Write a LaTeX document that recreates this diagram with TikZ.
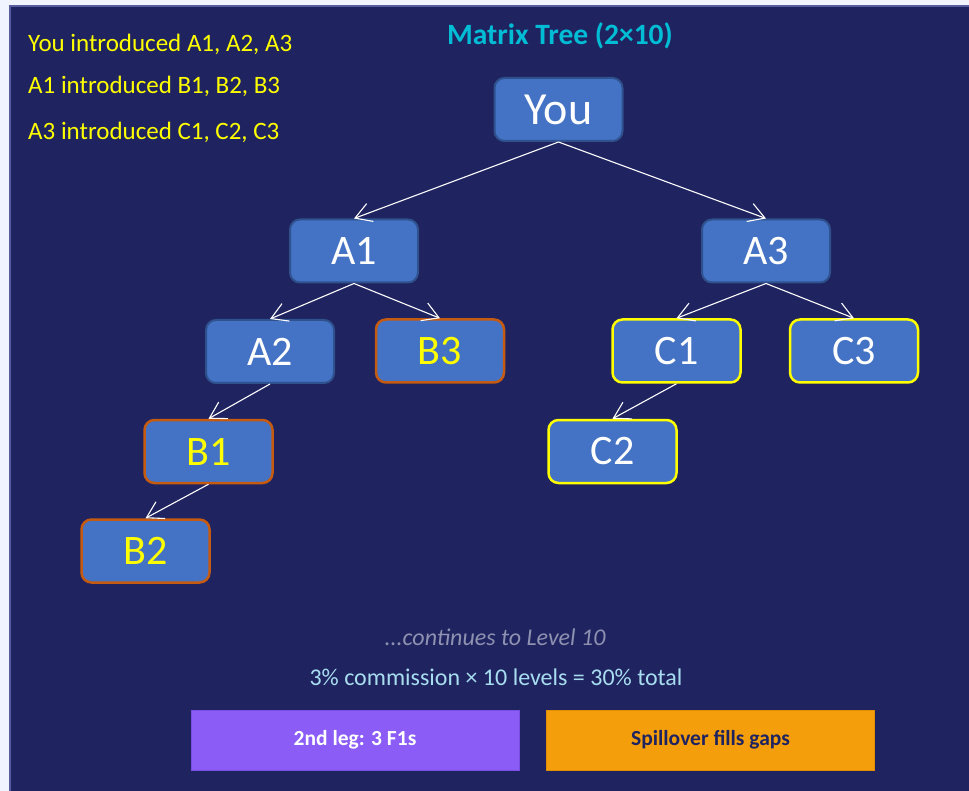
\documentclass[tikz,border=0pt]{standalone}
\usepackage{fontspec}
\setmainfont{Carlito}
\usetikzlibrary{arrows.meta}
\definecolor{bgpage}{HTML}{F0F4FF}
\definecolor{panel}{HTML}{1F2460}
\definecolor{panelborder}{HTML}{565C9C}
\definecolor{nodefill}{HTML}{4472C4}
\definecolor{nodeborder}{HTML}{2F528F}
\definecolor{orangeb}{HTML}{C55A11}
\definecolor{yel}{HTML}{FFFF00}
\definecolor{titlecyan}{HTML}{00BCD4}
\definecolor{commcol}{HTML}{A8DCEF}
\definecolor{contcol}{HTML}{8E91B0}
\definecolor{purplebox}{HTML}{8B5CF6}
\definecolor{purpleborder}{HTML}{7A4EE0}
\definecolor{amberbox}{HTML}{F59E0B}
\definecolor{amberborder}{HTML}{E08E05}
\begin{document}
\begin{tikzpicture}[x=1pt,y=-1pt,
  tnode/.style={rounded corners=10pt, fill=nodefill, draw=nodeborder, line width=2pt,
    minimum width=128pt, minimum height=63pt, inner sep=0pt, text=white,
    font=\fontsize{42}{50}\selectfont},
  bnode/.style={tnode, draw=orangeb, line width=2.5pt, text=yel},
  cnode/.style={tnode, draw=yel, line width=2.5pt},
  link/.style={draw=white, line width=1.1pt, -{Straight Barb[length=16pt,width=19pt,line width=1.1pt]}},
  lefttext/.style={anchor=base west, text=yel, font=\fontsize{25}{30}\selectfont, inner sep=0pt},
  btnbox/.style={minimum width=328pt, minimum height=60pt, inner sep=0pt, line width=1pt,
    font=\bfseries\fontsize{21.5}{25}\selectfont}
]
\fill[bgpage] (0,0) rectangle (969,791);
\useasboundingbox (0,0) rectangle (969,791);
\draw[panelborder, fill=panel, line width=2pt] (10,6) rectangle (975,797);

% left texts
\node[lefttext] (t1) at (28,52) {You introduced A1, A2, A3};
\node[lefttext] (t2) at (28,94) {A1 introduced B1, B2, B3};
\node[lefttext] (t3) at (28,140) {A3 introduced C1, C2, C3};

% title
\node[anchor=base, text=titlecyan, font=\bfseries\fontsize{29.5}{34}\selectfont, inner sep=0pt] (title) at (560,45) {Matrix Tree (2×10)};

% tree nodes
\node[tnode, font=\fontsize{46}{54}\selectfont] (you) at (558.5,109.5) {You};
\node[tnode] (a1) at (354,251) {A1};
\node[tnode] (a3) at (766,251) {A3};
\node[tnode] (a2) at (270,351.5) {A2};
\node[bnode] (b3) at (440,351) {B3};
\node[cnode] (c1) at (676.5,351) {C1};
\node[cnode] (c3) at (854,351) {C3};
\node[bnode] (b1) at (208.5,451.5) {B1};
\node[cnode] (c2) at (612.5,451.5) {C2};
\node[bnode] (b2) at (145.5,551) {B2};

% connectors
\draw[link] (you.south) -- (a1.north);
\draw[link] (you.south) -- (a3.north);
\draw[link] (a1.south) -- (a2.north);
\draw[link] (a1.south) -- (b3.north);
\draw[link] (a2.south) -- (b1.north);
\draw[link] (b1.south) -- (b2.north);
\draw[link] (a3.south) -- (c1.north);
\draw[link] (a3.south) -- (c3.north);
\draw[link] (c1.south) -- (c2.north);

% bottom texts
\node[text=contcol, font=\itshape\fontsize{24}{28}\selectfont, inner sep=0pt] (cont) at (495,637) {...continues to Level 10};
\node[text=commcol, font=\fontsize{24}{28}\selectfont, inner sep=0pt] (comm) at (496,677) {3\% commission × 10 levels = 30\% total};

% buttons
\node[btnbox, fill=purplebox, draw=purpleborder, text=white] (leg) at (355,740) {2nd leg: 3 F1s};
\node[btnbox, fill=amberbox, draw=amberborder, text=panel] (spill) at (710.5,740) {Spillover fills gaps};
\end{tikzpicture}
\end{document}
